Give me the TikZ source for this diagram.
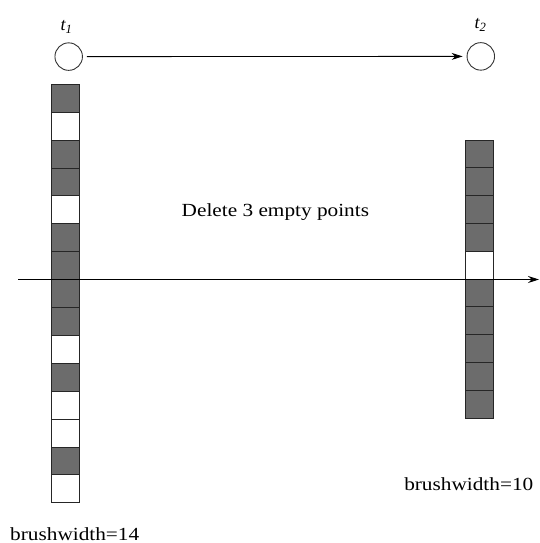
\documentclass[tikz,border=0pt]{standalone}
\usepackage{fontspec}
\setmainfont{Liberation Serif}
\usetikzlibrary{arrows.meta}
\definecolor{cellgray}{RGB}{108,108,108}
\tikzset{
  cell/.style={draw=black!85, line width=0.9pt, minimum width=28pt, minimum height=27.9pt, inner sep=0pt, outer sep=0pt},
  darkcell/.style={cell, fill=cellgray},
  lightcell/.style={cell, fill=white},
  timept/.style={circle, draw=black!80, line width=0.9pt, minimum size=27.5pt, inner sep=0pt},
  lbl/.style={font=\fontsize{18.5}{22}\selectfont, xscale=1.15, inner sep=0pt},
  tlbl/.style={font=\fontsize{18}{20}\selectfont\itshape, inner sep=0pt},
  conn/.style={line width=0.9pt, -{Stealth[length=11pt,width=7pt]}},
}
\begin{document}
\begin{tikzpicture}[x=1pt,y=-1pt]
\useasboundingbox (0,0) rectangle (539,543);
% time points
\node[timept] (c1) at (68.7,56.6) {};
\node[timept] (c2) at (480.8,56.4) {};
\node[tlbl] (t1) at (66.5,27) {t\textsubscript{1}};
\node[tlbl] (t2) at (480.5,25) {t\textsubscript{2}};
\draw[conn, shorten <=4pt, shorten >=4pt] (c1) -- (c2);
% left column (15 cells)
\foreach \i/\s in {0/darkcell,1/lightcell,2/darkcell,3/darkcell,4/lightcell,5/darkcell,6/darkcell,7/darkcell,8/darkcell,9/lightcell,10/darkcell,11/lightcell,12/lightcell,13/darkcell,14/lightcell}{
  \node[\s] (L\i) at (65.2, {84.3+13.95+27.9*\i}) {};
}
% right column (10 cells)
\foreach \i/\s in {0/darkcell,1/darkcell,2/darkcell,3/darkcell,4/lightcell,5/darkcell,6/darkcell,7/darkcell,8/darkcell,9/darkcell}{
  \node[\s] (R\i) at (479.5, {140+13.9+27.8*\i}) {};
}
% axis
\coordinate (axL) at (18,279.5);
\coordinate (axR) at (539,279.5);
\draw[conn] (axL) -- (axR);
% texts
\node[lbl, anchor=base west] (del) at (181.5,216) {Delete 3 empty points};
\node[lbl, anchor=base east] (bw10) at (533.5,490) {brushwidth=10};
\node[lbl, anchor=base west] (bw14) at (10,540) {brushwidth=14};
\end{tikzpicture}
\end{document}
